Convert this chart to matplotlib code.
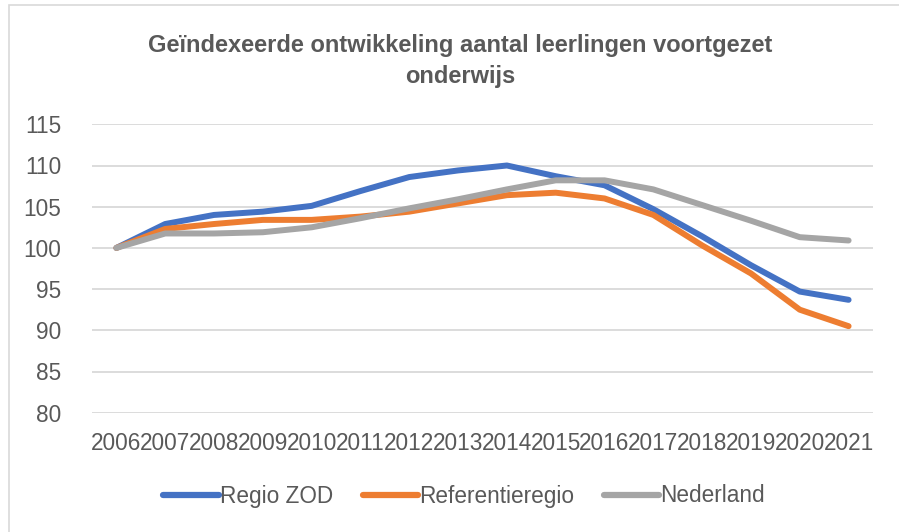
import matplotlib
matplotlib.use("Agg")
import matplotlib.pyplot as plt
from matplotlib.patches import Rectangle

years = ["2006", "2007", "2008", "2009", "2010", "2011", "2012", "2013",
         "2014", "2015", "2016", "2017", "2018", "2019", "2020", "2021"]
regio_zod = [100, 102.9, 104.0, 104.4, 105.1, 106.9, 108.6, 109.4,
             110.0, 108.7, 107.6, 104.7, 101.4, 97.9, 94.7, 93.7]
referentieregio = [100, 102.3, 102.9, 103.4, 103.4, 103.8, 104.4, 105.4,
                   106.4, 106.7, 106.0, 104.0, 100.3, 96.9, 92.5, 90.5]
nederland = [100, 101.75, 101.75, 101.9, 102.5, 103.6, 104.8, 105.9,
             107.1, 108.2, 108.2, 107.1, 105.2, 103.3, 101.3, 100.9]
series_names = ["Regio ZOD", "Referentieregio", "Nederland"]
colors = ["#4472C4", "#ED7D31", "#A5A5A5"]
title = "Geïndexeerde ontwikkeling aantal leerlingen voortgezet\nonderwijs"
yticks = [80, 85, 90, 95, 100, 105, 110, 115]

plt.rcParams['font.family'] = ['Liberation Sans', 'DejaVu Sans']
txt = "#595959"
fs = 16.3

fig = plt.figure(figsize=(8.99, 5.32), dpi=100)
fig.patches.append(Rectangle((9/899, -0.1), 1.2, 1 - 5/532 + 0.1, transform=fig.transFigure,
                             fill=False, edgecolor="#D9D9D9", linewidth=1.2))
ax = fig.add_axes([92/899, 1 - 412.7/532, (873 - 92)/899, (412.7 - 124.3)/532])

x = list(range(len(years)))
for vals, name, c in zip([regio_zod, referentieregio, nederland], series_names, colors):
    ax.plot(x, vals, color=c, lw=4.3, solid_capstyle="round", solid_joinstyle="round", label=name)

ax.set_xlim(-0.5, len(years) - 0.5)
ax.set_ylim(80, 115)
ax.set_yticks(yticks)
ax.set_yticklabels([str(v) for v in yticks], fontsize=fs, color=txt)
ax.set_xticks(x)
ax.set_xticklabels(years, fontsize=fs, color=txt)
ax.tick_params(axis="both", length=0)
ax.tick_params(axis="y", pad=22)
ax.tick_params(axis="x", pad=14)
ax.grid(axis="y", color="#D9D9D9", lw=1.3)
ax.set_axisbelow(True)
for s in ax.spines.values():
    s.set_visible(False)

fig.text(460/899, 1 - 61/532, title, ha="center", va="center", fontsize=17,
         fontweight="bold", color=txt, linespacing=1.45)

handles, labels = ax.get_legend_handles_labels()
leg = fig.legend(handles, labels, loc="center", bbox_to_anchor=(464/899, 1 - 496/532), ncol=3,
                 frameon=False, fontsize=fs, handlelength=2.45, handletextpad=0.05,
                 columnspacing=1.3, labelcolor=txt)
for h in leg.get_lines():
    h.set_linewidth(4.5)
    h.set_solid_capstyle("round")

fig.savefig("out.png", dpi=100)
